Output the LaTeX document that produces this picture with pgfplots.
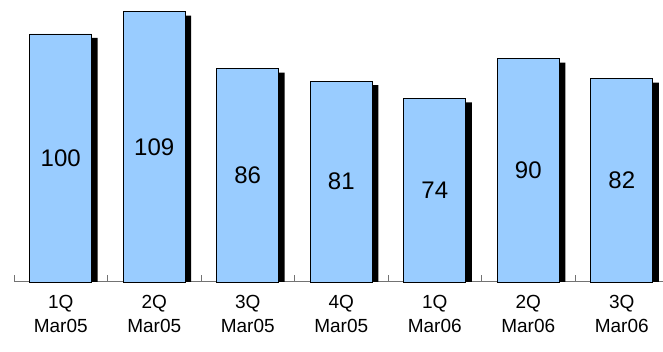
\documentclass[border=0pt]{standalone}
\usepackage{pgfplots}
\pgfplotsset{compat=1.18}
\usepackage{fontspec}
\setmainfont{Liberation Sans}
\definecolor{barblue}{RGB}{153,204,255}
\begin{document}
\begin{tikzpicture}[x=1pt,y=1pt]
\begin{axis}[
  at={(14pt,70pt)}, anchor=south west,
  scale only axis, width=654.5pt, height=282pt,
  xmin=-0.5, xmax=6.5, ymin=0, ymax=113.7,
  /pgf/number format/assume math mode=true,
  axis x line=bottom, axis y line=none,
  x axis line style={-, black!55, line width=1pt},
  ybar, bar width=0.663,
  xtick={0,...,6},
  major x tick style={draw=none},
  xticklabels={{1Q\\Mar05},{2Q\\Mar05},{3Q\\Mar05},{4Q\\Mar05},{1Q\\Mar06},{2Q\\Mar06},{3Q\\Mar06}},
  xticklabel style={align=center, font=\fontsize{19}{24}\selectfont, yshift=-5pt},
  extra x ticks={-0.5,0.5,1.5,2.5,3.5,4.5,5.5,6.5},
  extra x tick labels={},
  extra x tick style={major tick length=7pt, tick align=inside, major x tick style={draw=black!55, line width=0.8pt}},
  clip=false,
]
\addplot[fill=black, draw=none, bar shift=6pt] coordinates {(0,98.4)(1,107.4)(2,84.4)(3,79.4)(4,72.4)(5,88.4)(6,80.4)};
\addplot[fill=barblue, draw=black, line width=0.8pt, bar shift=0pt,
  visualization depends on=y \as \rawy,
  nodes near coords,
  every node near coord/.append style={anchor=center, text=black, font=\fontsize{24}{28}\selectfont, shift={(axis direction cs:0,-\rawy/2)}}]
  coordinates {(0,100)(1,109)(2,86)(3,81)(4,74)(5,90)(6,82)};
\end{axis}
\pgfresetboundingbox
\useasboundingbox (0,0) rectangle (663,352);
\end{tikzpicture}
\end{document}
